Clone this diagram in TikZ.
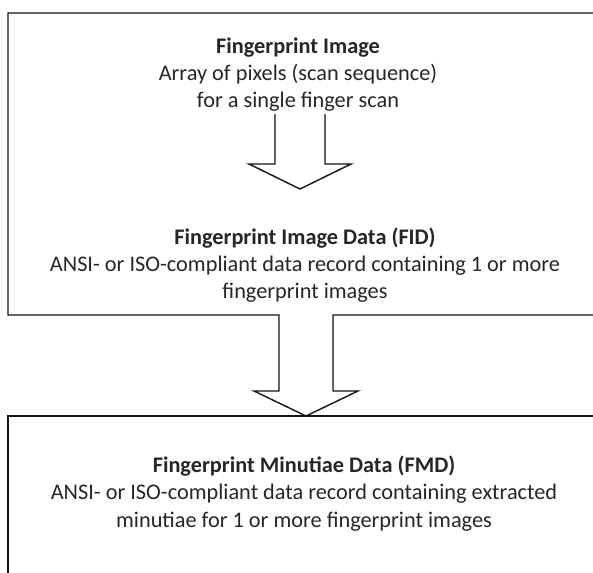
\documentclass[tikz,border=0pt]{standalone}
\usepackage{fontspec}
\setmainfont{Carlito}
\definecolor{txt}{RGB}{38,38,38}
\definecolor{ln}{RGB}{20,20,20}
\begin{document}
\begin{tikzpicture}[x=1pt,y=-1pt,
  outline/.style={draw=ln,line width=1.4pt,line join=miter},
  lbl/.style={align=center,inner sep=0pt,anchor=base,text=txt,
    font={\fontsize{22.3}{27.2}\selectfont}}]
\useasboundingbox (0,0) rectangle (593,572);
\clip (0,0) rectangle (593,572);
% coordinates of the outlines
\coordinate (b1tr) at (600,13);
\coordinate (b1tl) at (8,13);
\coordinate (b1bl) at (8,315);
\coordinate (b1br) at (600,315);
\coordinate (b3tr) at (600,416);
\coordinate (b3tl) at (8,416);
\coordinate (b3bl) at (8,580);
% first box joined with the second arrow
\draw[outline] (b1tr) -- (b1tl) -- (b1bl) -- (279,315) -- (279,391) -- (254,391)
  -- (306,416) -- (358,391) -- (333,391) -- (333,315) -- (b1br);
% first arrow
\draw[outline] (275,114) -- (275,164) -- (249,164) -- (300,189) -- (351,164)
  -- (325,164) -- (325,114);
% bottom box
\draw[outline] (b3tr) -- (b3tl) -- (b3bl);
% texts
\node[lbl] (img) at (298,108) {\textbf{Fingerprint Image}\\Array of pixels (scan sequence)\\for a single finger scan};
\node[lbl] (fid) at (305,298.5) {\textbf{Fingerprint Image Data (FID)}\\ANSI- or ISO-compliant data record containing 1 or more\\fingerprint images};
\node[lbl] (fmd) at (304,527) {\textbf{Fingerprint Minutiae Data (FMD)}\\ANSI- or ISO-compliant data record containing extracted\\minutiae for 1 or more fingerprint images};
\end{tikzpicture}
\end{document}
